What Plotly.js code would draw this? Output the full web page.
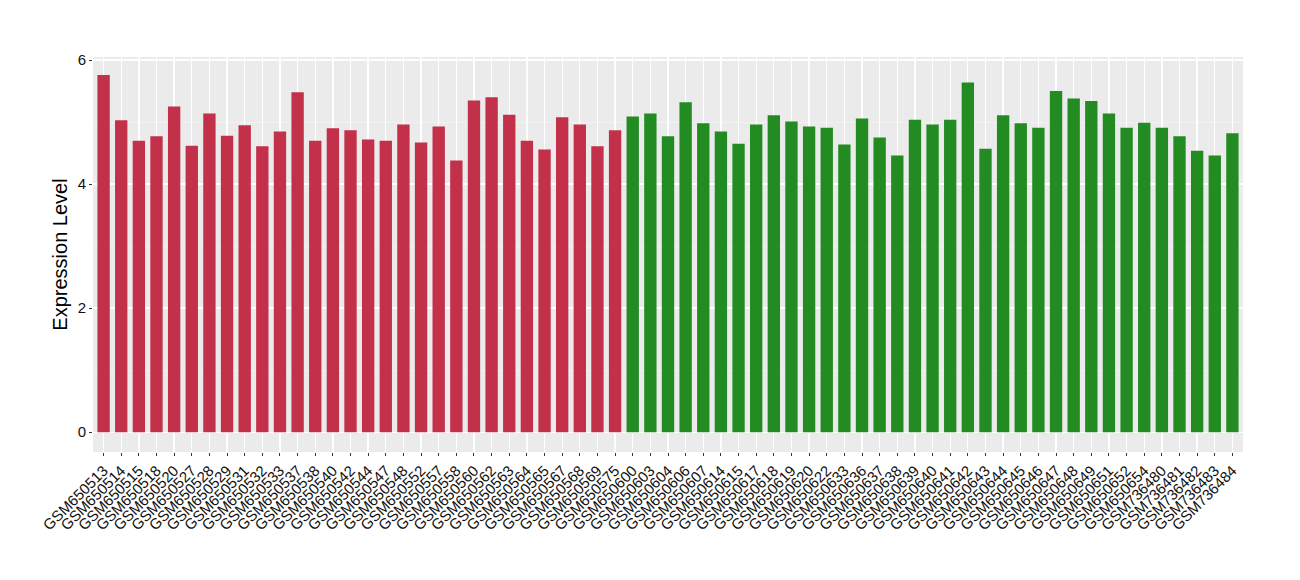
<!DOCTYPE html>
<html>
<head>
<meta charset="utf-8">
<script src="https://cdn.plot.ly/plotly-3.0.1.min.js"></script>
<style>html,body{margin:0;padding:0;background:#fff}#chart{width:1300px;height:580px}</style>
</head>
<body>
<div id="chart"></div>
<script>
const redSamples = ["GSM650513","GSM650514","GSM650515","GSM650518","GSM650520","GSM650527","GSM650528","GSM650529","GSM650531","GSM650532","GSM650533","GSM650537","GSM650538","GSM650540","GSM650542","GSM650544","GSM650547","GSM650548","GSM650552","GSM650557","GSM650558","GSM650560","GSM650562","GSM650563","GSM650564","GSM650565","GSM650567","GSM650568","GSM650569","GSM650575"];
const redValues = [5.76,5.03,4.70,4.77,5.25,4.62,5.14,4.78,4.95,4.61,4.85,5.48,4.70,4.90,4.87,4.72,4.70,4.96,4.67,4.93,4.38,5.35,5.40,5.12,4.70,4.56,5.08,4.96,4.61,4.87];
const greenSamples = ["GSM650600","GSM650603","GSM650604","GSM650606","GSM650607","GSM650614","GSM650615","GSM650617","GSM650618","GSM650619","GSM650620","GSM650622","GSM650633","GSM650636","GSM650637","GSM650638","GSM650639","GSM650640","GSM650641","GSM650642","GSM650643","GSM650644","GSM650645","GSM650646","GSM650647","GSM650648","GSM650649","GSM650651","GSM650652","GSM650654","GSM736480","GSM736481","GSM736482","GSM736483","GSM736484"];
const greenValues = [5.09,5.14,4.77,5.32,4.98,4.85,4.65,4.96,5.11,5.01,4.93,4.91,4.64,5.06,4.75,4.46,5.04,4.96,5.04,5.64,4.57,5.11,4.98,4.91,5.50,5.38,5.34,5.14,4.91,4.99,4.91,4.77,4.54,4.46,4.82];
const yTicks = [0,2,4,6];

const allSamples = redSamples.concat(greenSamples);
const traces = [
  {type:'bar', x:redSamples, y:redValues, width:0.7, marker:{color:'#C2304A'}, hoverinfo:'x+y', showlegend:false},
  {type:'bar', x:greenSamples, y:greenValues, width:0.7, marker:{color:'#228B22'}, hoverinfo:'x+y', showlegend:false}
];
const layout = {
  width:1300, height:580,
  margin:{l:93, r:57, t:57, b:128},
  paper_bgcolor:'#ffffff', plot_bgcolor:'#EBEBEB',
  font:{family:'Liberation Sans, Arial, sans-serif', color:'#000'},
  xaxis:{
    type:'category', categoryorder:'array', categoryarray:allSamples,
    tickmode:'array', tickvals:allSamples, ticktext:allSamples,
    range:[-0.6, allSamples.length-0.4],
    tickangle:-45, tickfont:{size:15, color:'#111'},
    showgrid:true, gridcolor:'#ffffff', gridwidth:1.3,
    ticks:'outside', ticklen:3, tickcolor:'#333', tickwidth:1,
    zeroline:false, showline:false, fixedrange:true, automargin:false
  },
  yaxis:{
    range:[-0.32, 6.05], tickvals:yTicks, ticktext:yTicks.map(String),
    tickfont:{size:15, color:'#111'},
    title:{text:'Expression Level', font:{size:20, color:'#000'}, standoff:4},
    showgrid:true, gridcolor:'#ffffff', gridwidth:1.3,
    minor:{tickvals:[1,3,5], showgrid:true, gridcolor:'#F7F7F7', gridwidth:0.6, ticks:''},
    ticks:'outside', ticklen:3, tickcolor:'#333', tickwidth:1,
    zeroline:false, showline:false, fixedrange:true, automargin:false
  },
  bargap:0.3
};
Plotly.newPlot('chart', traces, layout, {displayModeBar:false, staticPlot:true});
</script>
</body>
</html>
